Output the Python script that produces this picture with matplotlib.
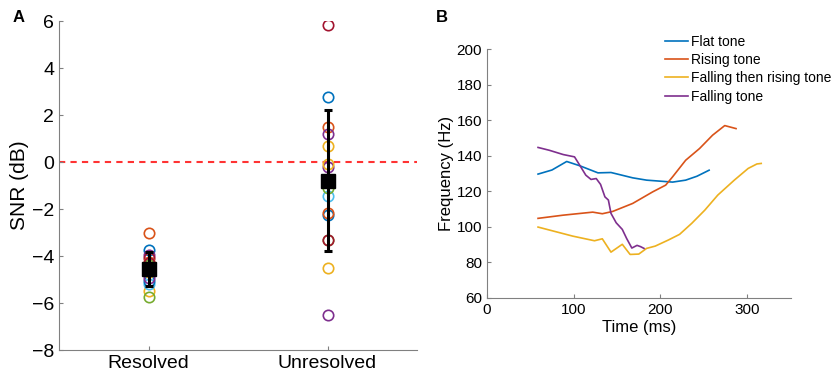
import numpy as np
import matplotlib.pyplot as plt

plt.rcParams['font.family'] = ['Liberation Sans', 'DejaVu Sans']

# matlab default colour order
blue = '#0072BD'
red = '#D95319'
yellow = '#EDB120'
purple = '#7E2F8E'
green = '#77AC30'
lblue = '#4DBEEE'
dred = '#A2142F'

# ---- panel A: SNR per listener
groups = ['Resolved', 'Unresolved']
res_snr = [-3.75, -3.0, -5.5, -3.95, -5.75, -5.2, -4.1, -5.05, -4.25, -4.7, -4.95, -4.4, -4.6, -4.3]
res_col = [blue, red, yellow, purple, green, lblue, dred, blue, red, yellow, purple, green, lblue, dred]
unres_snr = [2.75, 1.5, 0.7, 1.2, -3.3, -1.45, 5.85, -2.25, -2.15, -4.5, -6.5, -1.1, -0.2, -3.3, -0.1]
unres_col = [blue, red, yellow, purple, green, lblue, dred, blue, red, yellow, purple, green, purple, dred, yellow]
group_mean = [-4.55, -0.8]
group_err = [0.72, 3.0]

# ---- panel B: F0 contours
flat_t = [59, 75, 92, 107, 128, 143, 168, 184, 214, 229, 242, 256]
flat_f = [129.7, 132.0, 136.8, 134.4, 130.4, 130.6, 127.6, 126.3, 125.2, 126.3, 128.5, 131.9]
rise_t = [59, 88, 122, 133, 145, 168, 191, 206, 214, 229, 245, 260, 274, 287]
rise_f = [104.8, 106.6, 108.3, 107.4, 108.7, 113.2, 119.7, 123.5, 128.2, 137.5, 144.1, 151.6, 157.0, 155.3]
fallrise_t = [59, 99, 124, 133, 143, 156, 165, 175, 184, 194, 209, 222, 236, 251, 266, 285, 301, 311, 316]
fallrise_f = [99.9, 94.8, 92.2, 93.3, 85.8, 90.2, 84.5, 84.7, 87.9, 89.2, 92.6, 95.8, 102.0, 109.4, 117.9, 126.3, 132.9, 135.4, 135.7]
fall_t = [59, 72, 88, 101, 107, 114, 120, 126, 131, 136, 140, 143, 149, 156, 161, 167, 173, 177, 181]
fall_f = [144.7, 143.1, 140.7, 139.4, 134.7, 129.1, 126.7, 127.2, 123.9, 116.9, 115.1, 107.6, 102.3, 98.6, 93.5, 88.1, 89.6, 88.9, 87.9]

fig = plt.figure(figsize=(8.35, 3.84), dpi=100)
axA = fig.add_axes([0.0707, 0.0885, 0.4287, 0.8565])
axB = fig.add_axes([0.583, 0.224, 0.364, 0.648])

axA.axhline(0, color='#FF3333', linestyle=(0, (3, 2.5)), linewidth=1.5, zorder=1)
for x, vals, cols in [(1, res_snr, res_col), (2, unres_snr, unres_col)]:
    for v, c in zip(vals, cols):
        axA.plot(x, v, 'o', mfc='none', mec=c, ms=7.5, mew=1.2, zorder=2)
axA.errorbar([1, 2], group_mean, yerr=group_err, fmt='s', color='k', ms=10.5,
             elinewidth=2.2, capsize=3, capthick=2.2, zorder=3)

axA.set_xlim(0.5, 2.5)
axA.set_ylim(-8, 6)
axA.set_xticks([1, 2])
axA.set_xticklabels(groups)
axA.set_yticks(range(-8, 7, 2))
axA.set_ylabel('SNR (dB)', fontsize=15, labelpad=2)
axA.tick_params(labelsize=14, direction='in', length=3, color='#808080')

axB.plot(flat_t, flat_f, color=blue, lw=1.2, label='Flat tone')
axB.plot(rise_t, rise_f, color=red, lw=1.2, label='Rising tone')
axB.plot(fallrise_t, fallrise_f, color=yellow, lw=1.2, label='Falling then rising tone')
axB.plot(fall_t, fall_f, color=purple, lw=1.2, label='Falling tone')
axB.set_xlim(0, 350)
axB.set_ylim(60, 200)
axB.set_xticks([0, 100, 200, 300])
axB.set_yticks(range(60, 201, 20))
axB.set_xlabel('Time (ms)', fontsize=12, labelpad=2)
axB.set_ylabel('Frequency (Hz)', fontsize=12, labelpad=2)
axB.tick_params(labelsize=11, direction='in', length=3, color='#808080')
axB.legend(loc='upper left', bbox_to_anchor=(665 / 835, 1 - 35 / 384),
           bbox_transform=fig.transFigure, frameon=False, fontsize=10,
           handlelength=1.65, handletextpad=0.25, labelspacing=0.3,
           borderpad=0, borderaxespad=0)

for ax in (axA, axB):
    for s in ('top', 'right'):
        ax.spines[s].set_visible(False)
    for s in ('left', 'bottom'):
        ax.spines[s].set_color('#808080')

fig.text(0.015, 0.955, 'A', fontsize=12, fontweight='bold', va='center')
fig.text(0.522, 0.955, 'B', fontsize=12, fontweight='bold', va='center')

fig.savefig('out.png', dpi=100)
